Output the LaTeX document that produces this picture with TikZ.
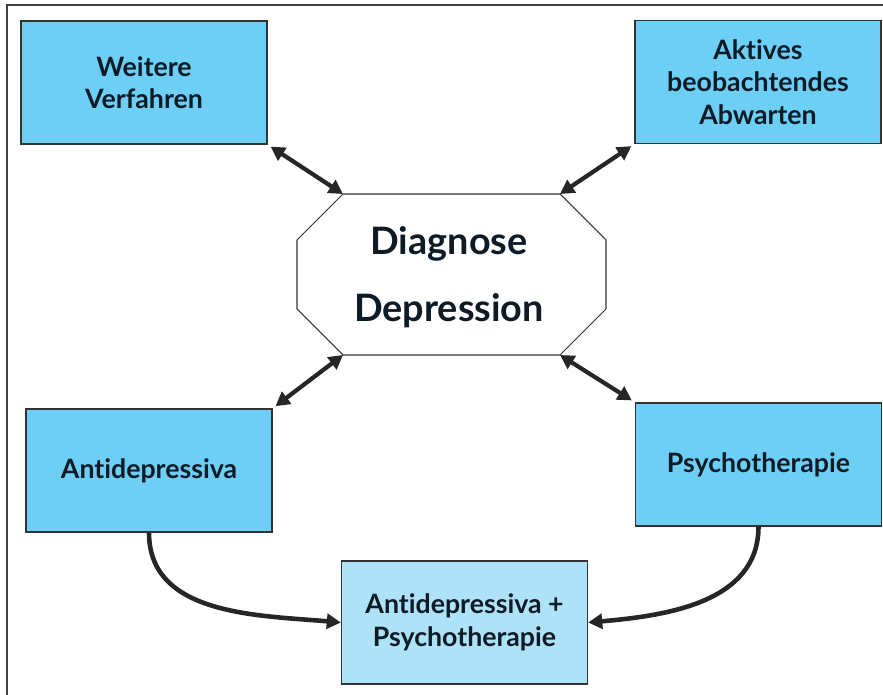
\documentclass[tikz,border=0pt]{standalone}
\usepackage{fontspec}
\setmainfont{Lato}[Ligatures={NoCommon}]
\usepackage{tikz}
\usetikzlibrary{arrows.meta}
\usetikzlibrary{positioning}

\definecolor{boxblue}{HTML}{6DCFF6}
\definecolor{lightblue}{HTML}{AEE2F8}
\definecolor{txtdark}{HTML}{0D1B26}

\begin{document}
\begin{tikzpicture}[x=0.02cm,y=-0.02cm,
        box/.style={draw=black!80,line width=0.8pt,fill=boxblue,minimum width=4.92cm,
                minimum height=2.46cm,align=center,text=txtdark,font=\bfseries\fontsize{15.2}{18.5}\selectfont},
        dbl/.style={{Triangle[length=8pt,width=8.5pt]}-{Triangle[length=8pt,width=8.5pt]},line width=2.4pt,black!85},
        mergearrow/.style={-{Triangle[length=8pt,width=8.5pt]},line width=2.6pt,black!85}]
        \useasboundingbox (0,0) rectangle (883,695);
        \draw[black!75,line width=0.6pt] (883,5) -- (7,5) -- (7,695);

        % the octagon in the middle
        \coordinate (otl) at (343,194);
        \coordinate (otr) at (560,194);
        \coordinate (obl) at (343,355);
        \coordinate (obr) at (560,355);
        \draw[black!80,line width=0.6pt,fill=white] (otl) -- (otr) -- (606,240) -- (606,309)
                -- (obr) -- (obl) -- (297,309) -- (297,240) -- cycle;
        \node[align=center,text=txtdark,font=\bfseries\fontsize{21.5}{25}\selectfont] (diag) at (449,277)
                {Diagnose\\[13pt]Depression};

        % the boxes
        \node[box] (weitere) at (144,82.5) {Weitere\\Verfahren};
        \node[box] (aktiv) at (758,82) {Aktives\\beobachtendes\\Abwarten};
        \node[box] (anti) at (149,470.5) {Antidepressiva};
        \node[box] (psycho) at (758.5,464.5) {Psychotherapie};
        \node[box,fill=lightblue] (beide) at (464.5,622.5) {Antidepressiva +\\Psychotherapie};

        \draw[dbl,shorten <=2pt] (weitere.south east) -- (otl);
        \draw[dbl,shorten <=2pt] (aktiv.south west) -- (otr);
        \draw[dbl,shorten >=2pt] (obl) -- (anti.north east);
        \draw[dbl,shorten >=2pt] (obr) -- (psycho.north west);

        \draw[mergearrow] (anti.south) to[out=-90,in=175] (beide.west);
        \draw[mergearrow] (psycho.south) to[out=-90,in=5] (beide.east);
\end{tikzpicture}
\end{document}
